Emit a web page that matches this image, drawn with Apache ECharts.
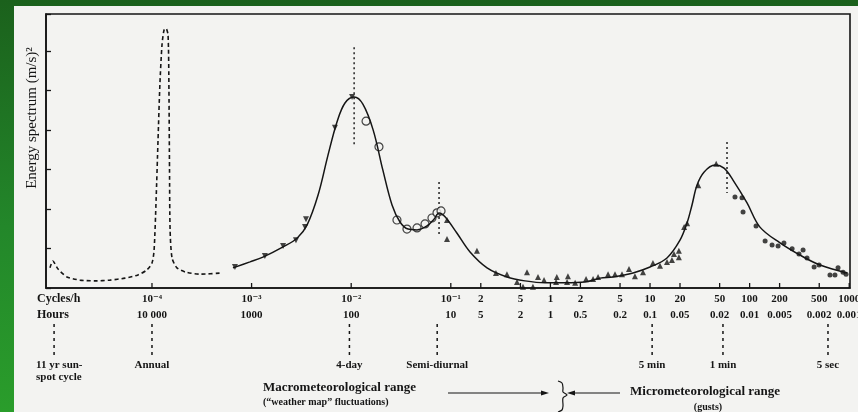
<!DOCTYPE html>
<html>
<head>
<meta charset="utf-8">
<title>Van der Hoven wind spectrum</title>
<script src="https://cdn.jsdelivr.net/npm/echarts@6/dist/echarts.min.js"></script>
<style>
  html, body { margin: 0; padding: 0; }
  #wrap { position: relative; width: 858px; height: 412px; overflow: hidden;
          background: linear-gradient(180deg, #1b611c 0%, #23872a 55%, #2a9d2b 100%); }
  #paper { position: absolute; left: 14px; top: 6px; right: 0; bottom: 0; background: #f3f3f1; }
  #chart { position: absolute; left: 0; top: 0; width: 858px; height: 412px; }
</style>
</head>
<body>
<div id="wrap">
  <div id="paper"></div>
  <div id="chart"></div>
</div>
<script>
// frequency in cycles/h, energy in arbitrary spectrum units

// long-term part (dashed)
const longFreq = [9.46e-6, 1.01e-5, 1.14e-5, 1.40e-5, 1.89e-5, 2.68e-5, 3.78e-5, 5.36e-5, 7.23e-5, 8.91e-5,
  1.00e-4, 1.05e-4, 1.10e-4, 1.15e-4, 1.20e-4, 1.26e-4, 1.32e-4, 1.38e-4, 1.45e-4, 1.48e-4, 1.50e-4,
  1.52e-4, 1.59e-4, 1.78e-4, 2.19e-4, 3.03e-4, 5.05e-4];
const longEnergy = [0.51, 0.68, 0.48, 0.28, 0.20, 0.18, 0.20, 0.25, 0.33, 0.46,
  0.63, 0.96, 2.23, 3.74, 5.13, 6.14, 6.52, 6.57, 6.40, 5.01, 2.98,
  1.47, 0.76, 0.51, 0.40, 0.35, 0.38];

// fitted curve (solid)
const curveFreq = [6.50e-4, 9.64e-4, 1.30e-3, 2.07e-3, 2.86e-3, 3.60e-3, 4.65e-3, 5.85e-3, 7.20e-3, 8.66e-3,
  1.07e-2, 1.31e-2, 1.66e-2, 2.08e-2, 2.57e-2, 3.09e-2, 3.72e-2, 4.58e-2, 5.77e-2, 6.78e-2, 7.62e-2,
  8.75e-2, 0.115, 0.156, 0.231, 0.366, 0.556, 0.883, 1.40, 2.22, 3.15, 4.25, 6.75, 10.0, 14.8, 20.0,
  23.5, 26.4, 29.6, 34.8, 44.9, 55.3, 68.1, 94.2, 127, 202, 321, 509, 951];
const curveEnergy = [0.51, 0.66, 0.78, 1.04, 1.26, 1.59, 2.35, 3.36, 4.20, 4.68,
  4.83, 4.65, 4.00, 2.98, 2.10, 1.67, 1.49, 1.47, 1.57, 1.74, 1.90,
  1.80, 1.39, 0.91, 0.51, 0.28, 0.18, 0.13, 0.13, 0.15, 0.25, 0.28, 0.38, 0.53, 0.76, 1.21,
  1.64, 2.10, 2.60, 2.93, 3.11, 3.03, 2.73, 2.15, 1.54, 1.14, 0.83, 0.58, 0.38];

// measured points
const invTriFreq = [6.81e-4, 1.36e-3, 2.07e-3, 2.79e-3, 3.44e-3, 3.52e-3, 6.87e-3, 1.02e-2];
const invTriEnergy = [0.53, 0.81, 1.06, 1.21, 1.54, 1.74, 4.05, 4.83];

const ringFreq = [1.41e-2, 1.90e-2, 2.88e-2, 3.63e-2, 4.58e-2, 5.51e-2, 6.47e-2, 7.27e-2, 7.98e-2];
const ringEnergy = [4.22, 3.57, 1.72, 1.49, 1.52, 1.62, 1.77, 1.90, 1.95];

const triFreq = [0.0916, 0.0916, 0.183, 0.284, 0.366, 0.462, 0.582, 0.531, 0.668, 0.751, 0.863,
  1.16, 1.14, 1.50, 1.47, 1.77, 2.28, 2.68, 3.01, 3.79, 4.45, 5.23, 6.15, 7.06, 8.50,
  10.7, 12.6, 14.8, 16.6, 17.4, 19.5, 19.5, 22.0, 23.6, 30.5, 46.2];
const triEnergy = [1.72, 1.24, 0.94, 0.38, 0.35, 0.15, 0.40, 0.03, 0.03, 0.28, 0.20,
  0.28, 0.15, 0.30, 0.15, 0.13, 0.23, 0.23, 0.28, 0.35, 0.35, 0.35, 0.48, 0.30, 0.40,
  0.63, 0.56, 0.66, 0.71, 0.86, 0.94, 0.78, 1.54, 1.64, 2.60, 3.14];

const dotFreq = [71.3, 83.9, 85.9, 116, 143, 168, 193, 221, 267, 313, 344, 377, 444, 498, 641, 719, 772, 867, 929];
const dotEnergy = [2.30, 2.28, 1.92, 1.57, 1.19, 1.09, 1.06, 1.14, 0.99, 0.86, 0.96, 0.76, 0.53, 0.58,
  0.33, 0.33, 0.51, 0.40, 0.35];

// dotted verticals through the peaks: [freq, top, bottom]
const peakFreq = [1.07e-2, 7.62e-2, 59.3];
const peakTop = [6.09, 2.68, 3.69];
const peakBottom = [3.57, 1.29, 2.40];

// x-axis ticks
const tickFreq = [1e-4, 1e-3, 1e-2, 0.1, 0.2, 0.5, 1, 2, 5, 10, 20, 50, 100, 200, 500, 1000];
const cycleLabels = ['10\u207B\u2074', '10\u207B\u00B3', '10\u207B\u00B2', '10\u207B\u00B9', '2', '5', '1', '2', '5',
  '10', '20', '50', '100', '200', '500', '1000'];
const hourLabels = ['10 000', '1000', '100', '10', '5', '2', '1', '0.5', '0.2', '0.1', '0.05', '0.02',
  '0.01', '0.005', '0.002', '0.001'];

// periods marked below the axis
const eventFreq = [1.04e-5, 1.0e-4, 9.6e-3, 0.073, 10.5, 54, 612];
const eventLabels = ['11 yr sun-\nspot cycle', 'Annual', '4-day', 'Semi-diurnal', '5 min', '1 min', '5 sec'];

const ink = '#151515';
const serif = '"Liberation Serif", "DejaVu Serif", serif';
const zip = (xs, ys) => xs.map((x, i) => [x, ys[i]]);

const chart = echarts.init(document.getElementById('chart'));

const option = {
  animation: false,
  backgroundColor: 'transparent',
  grid: {
    left: 46, right: 8, top: 14, bottom: 124,
    show: true, borderColor: ink, borderWidth: 1.6
  },
  xAxis: {
    type: 'log', logBase: 10, min: 8.63e-6, max: 1018,
    axisLine: { lineStyle: { color: ink, width: 1.6 } },
    axisTick: { show: false }, axisLabel: { show: false }, splitLine: { show: false }
  },
  yAxis: {
    type: 'value', min: 0, max: 6.93, interval: 1,
    axisLine: { show: true, lineStyle: { color: ink, width: 1.6 } },
    axisTick: { show: true, inside: true, length: 5, lineStyle: { color: ink, width: 1.3 } },
    axisLabel: { show: false }, splitLine: { show: false }
  },
  graphic: [
    {
      type: 'text', x: 32, y: 118, rotation: Math.PI / 2,
      style: { text: 'Energy spectrum (m/s)\u00B2', fill: ink, font: '15px ' + serif,
        textAlign: 'center', textVerticalAlign: 'middle' }
    },
    { type: 'text', x: 37, y: 299, style: { text: 'Cycles/h', fill: ink, font: 'bold 12px ' + serif, textVerticalAlign: 'middle' } },
    { type: 'text', x: 37, y: 315, style: { text: 'Hours', fill: ink, font: 'bold 12px ' + serif, textVerticalAlign: 'middle' } },
    { type: 'text', x: 263, y: 388, style: { text: 'Macrometeorological range', fill: ink, font: 'bold 13px ' + serif, textVerticalAlign: 'middle' } },
    { type: 'text', x: 263, y: 402, style: { text: '(\u201Cweather map\u201D fluctuations)', fill: ink, font: 'bold 10px ' + serif, textVerticalAlign: 'middle' } },
    { type: 'line', shape: { x1: 448, y1: 393, x2: 546, y2: 393 }, style: { stroke: ink, lineWidth: 1.2 } },
    { type: 'polygon', shape: { points: [[549, 393], [541, 390.5], [541, 395.5]] }, style: { fill: ink } },
    {
      type: 'polyline',
      shape: { points: [[558, 381], [562, 383], [563, 388], [563, 392], [567, 395], [563, 398], [563, 406], [562, 410], [558, 412]], smooth: 0.3 },
      style: { stroke: ink, lineWidth: 1.2, fill: null }
    },
    { type: 'line', shape: { x1: 570, y1: 393, x2: 620, y2: 393 }, style: { stroke: ink, lineWidth: 1.2 } },
    { type: 'polygon', shape: { points: [[567, 393], [575, 390.5], [575, 395.5]] }, style: { fill: ink } },
    { type: 'text', x: 630, y: 392, style: { text: 'Micrometeorological range', fill: ink, font: 'bold 13px ' + serif, textVerticalAlign: 'middle' } },
    { type: 'text', x: 708, y: 407, style: { text: '(gusts)', fill: ink, font: 'bold 10px ' + serif, textAlign: 'center', textVerticalAlign: 'middle' } }
  ],
  series: [
    {
      type: 'line', data: zip(longFreq, longEnergy), smooth: 0.25, symbol: 'none',
      lineStyle: { color: ink, width: 1.6, type: [4, 3] }
    },
    {
      type: 'line', data: zip(curveFreq, curveEnergy), smooth: 0.35, symbol: 'none',
      lineStyle: { color: ink, width: 1.5 }
    },
    {
      type: 'scatter', data: zip(invTriFreq, invTriEnergy), symbol: 'triangle', symbolRotate: 180,
      symbolSize: 6, itemStyle: { color: ink }
    },
    {
      type: 'scatter', data: zip(ringFreq, ringEnergy), symbol: 'circle', symbolSize: 8,
      itemStyle: { color: '#f3f3f1', borderColor: ink, borderWidth: 1.2 }
    },
    {
      type: 'scatter', data: zip(triFreq, triEnergy), symbol: 'triangle', symbolSize: 6,
      itemStyle: { color: ink }
    },
    {
      type: 'scatter', data: zip(dotFreq, dotEnergy), symbol: 'circle', symbolSize: 5,
      itemStyle: { color: ink }
    },
    {
      // dotted markers through the spectral peaks
      type: 'custom',
      data: peakFreq.map((f, i) => [f, peakTop[i], peakBottom[i]]),
      encode: { x: 0, y: [1, 2] },
      renderItem: (params, api) => {
        const a = api.coord([api.value(0), api.value(1)]);
        const b = api.coord([api.value(0), api.value(2)]);
        return {
          type: 'line', shape: { x1: a[0], y1: a[1], x2: b[0], y2: b[1] },
          style: { stroke: ink, lineWidth: 1.4, lineDash: [2, 3] }
        };
      }
    },
    {
      // bottom ticks with the two label rows
      type: 'custom',
      data: tickFreq.map(f => [f, 0]),
      encode: { x: 0, y: 1 },
      clip: false,
      renderItem: (params, api) => {
        const p = api.coord([api.value(0), 0]);
        const i = params.dataIndex;
        return {
          type: 'group',
          children: [
            { type: 'line', shape: { x1: p[0], y1: p[1], x2: p[0], y2: p[1] - 5 },
              style: { stroke: ink, lineWidth: 1.3 } },
            { type: 'text', x: p[0], y: p[1] + 11,
              style: { text: cycleLabels[i], fill: ink, font: 'bold 11px ' + serif, textAlign: 'center', textVerticalAlign: 'middle' } },
            { type: 'text', x: p[0], y: p[1] + 27,
              style: { text: hourLabels[i], fill: ink, font: 'bold 11px ' + serif, textAlign: 'center', textVerticalAlign: 'middle' } }
          ]
        };
      }
    },
    {
      // characteristic periods below the axis
      type: 'custom',
      data: eventFreq.map(f => [f, 0]),
      encode: { x: 0, y: 1 },
      clip: false,
      renderItem: (params, api) => {
        const p = api.coord([api.value(0), 0]);
        const i = params.dataIndex;
        const first = i === 0;
        return {
          type: 'group',
          children: [
            { type: 'line', shape: { x1: p[0], y1: p[1] + 36, x2: p[0], y2: p[1] + 67 },
              style: { stroke: ink, lineWidth: 1.5, lineDash: [3, 4] } },
            { type: 'text', x: first ? p[0] - 18 : p[0], y: p[1] + 71,
              style: { text: eventLabels[i], fill: ink, font: 'bold 11px ' + serif, lineHeight: 12,
                textAlign: first ? 'left' : 'center', textVerticalAlign: 'top' } }
          ]
        };
      }
    }
  ]
};

chart.setOption(option);
window.addEventListener('resize', () => chart.resize());
</script>
</body>
</html>
